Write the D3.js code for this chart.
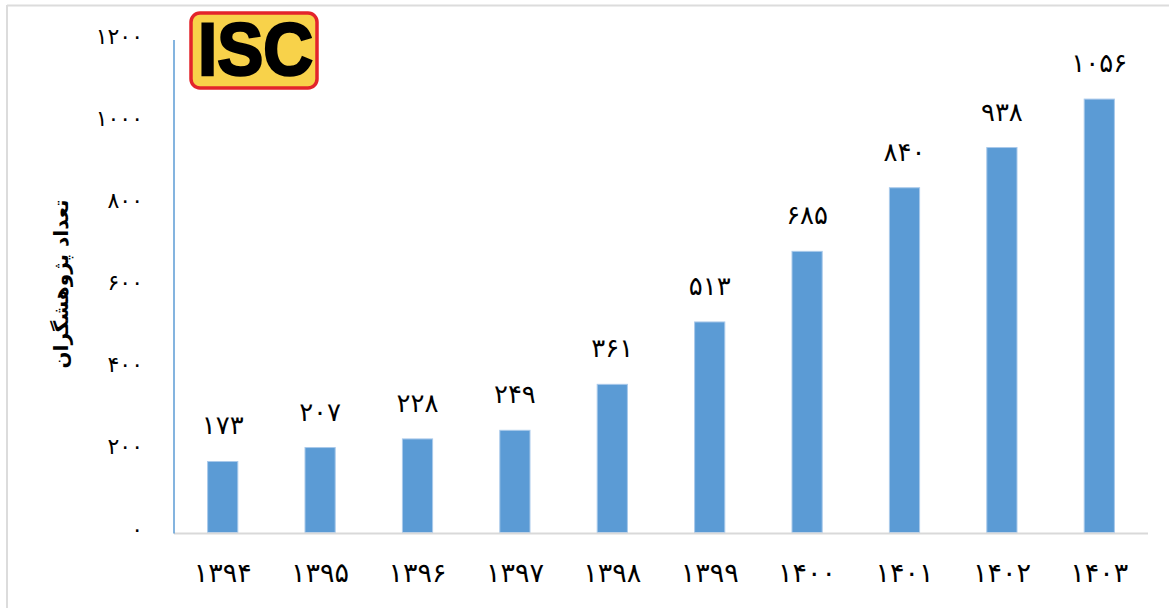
<!DOCTYPE html>
<html><head><meta charset="utf-8">
<script src="https://cdn.jsdelivr.net/npm/d3@7/dist/d3.min.js"></script>
<style>
html,body{margin:0;padding:0;background:#fff;}
svg{display:block;font-family:"DejaVu Sans","Noto Sans",sans-serif;}
</style></head>
<body>
<svg id="chart" width="1169" height="608"></svg>
<script>
const categories = ["1394","1395","1396","1397","1398","1399","1400","1401","1402","1403"];
const values = [173,207,228,249,361,513,685,840,938,1056];
const yTicks = [0,200,400,600,800,1000,1200];
const yTitle = "تعداد پژوهشگران";

const fa = s => String(s).replace(/[0-9]/g, d => "۰۱۲۳۴۵۶۷۸۹"[d]);

const svg = d3.select("#chart");
// frame lines (top, left)
svg.append("line").attr("x1",7).attr("x2",1169).attr("y1",5.5).attr("y2",5.5).attr("stroke","#dcdcdc").attr("stroke-width",2);
svg.append("line").attr("x1",7).attr("x2",7).attr("y1",5).attr("y2",608).attr("stroke","#dcdcdc").attr("stroke-width",2);

const x = d3.scaleBand().domain(categories).range([174,1148]).paddingInner(0.69).paddingOuter(0.345);
const y = d3.scaleLinear().domain([0,1200]).range([532.5,40]);

// bars
svg.selectAll("rect.bar").data(values).enter().append("rect")
  .attr("class","bar")
  .attr("x",(d,i)=>x(categories[i]))
  .attr("width",x.bandwidth())
  .attr("y",d=>y(d))
  .attr("height",d=>y(0)-y(d))
  .attr("fill","#5b9bd5")
  .attr("stroke","#a9c9ea").attr("stroke-width",1);

// x axis line
svg.append("line").attr("x1",174).attr("x2",1148).attr("y1",y(0)+1).attr("y2",y(0)+1)
  .attr("stroke","#d9d9d9").attr("stroke-width",2);
// y axis line
svg.append("line").attr("x1",174).attr("x2",174).attr("y1",y(1200)).attr("y2",y(0)+1)
  .attr("stroke","#5b9bd5").attr("stroke-width",1.5);

// y tick labels
svg.selectAll("text.ytick").data(yTicks).enter().append("text")
  .attr("class","ytick")
  .attr("x",143).attr("y",d=>y(d)+4)
  .attr("text-anchor","end")
  .attr("font-size",22)
  .attr("fill","#000")
  .text(d=>fa(d));

// x tick labels
svg.selectAll("text.xtick").data(categories).enter().append("text")
  .attr("class","xtick")
  .attr("x",d=>x(d)+x.bandwidth()/2).attr("y",582)
  .attr("text-anchor","middle")
  .attr("font-size",27)
  .attr("fill","#000")
  .text(d=>fa(d));

// data labels
svg.selectAll("text.dlabel").data(values).enter().append("text")
  .attr("class","dlabel")
  .attr("x",(d,i)=>x(categories[i])+x.bandwidth()/2).attr("y",d=>y(d)-27)
  .attr("text-anchor","middle")
  .attr("font-size",26)
  .attr("fill","#000")
  .text(d=>fa(d));

// y title
svg.append("text")
  .attr("transform","translate(68,284) rotate(-90)")
  .attr("text-anchor","middle")
  .attr("font-size",20).attr("font-weight","bold")
  .attr("fill","#000")
  .text(yTitle);

// logo
const logo = svg.append("g");
logo.append("rect").attr("x",191).attr("y",13).attr("width",126).attr("height",75).attr("rx",9)
  .attr("fill","#f8d24a").attr("stroke","#e3242b").attr("stroke-width",3.5);
logo.append("text").attr("x",198).attr("y",75)
  .attr("font-family","Liberation Sans, Arial, sans-serif")
  .attr("font-weight",900).attr("font-size",74)
  .attr("textLength",115).attr("lengthAdjust","spacingAndGlyphs")
  .attr("stroke","#000").attr("stroke-width",2.5)
  .attr("fill","#000").text("ISC");
</script>
</body></html>
